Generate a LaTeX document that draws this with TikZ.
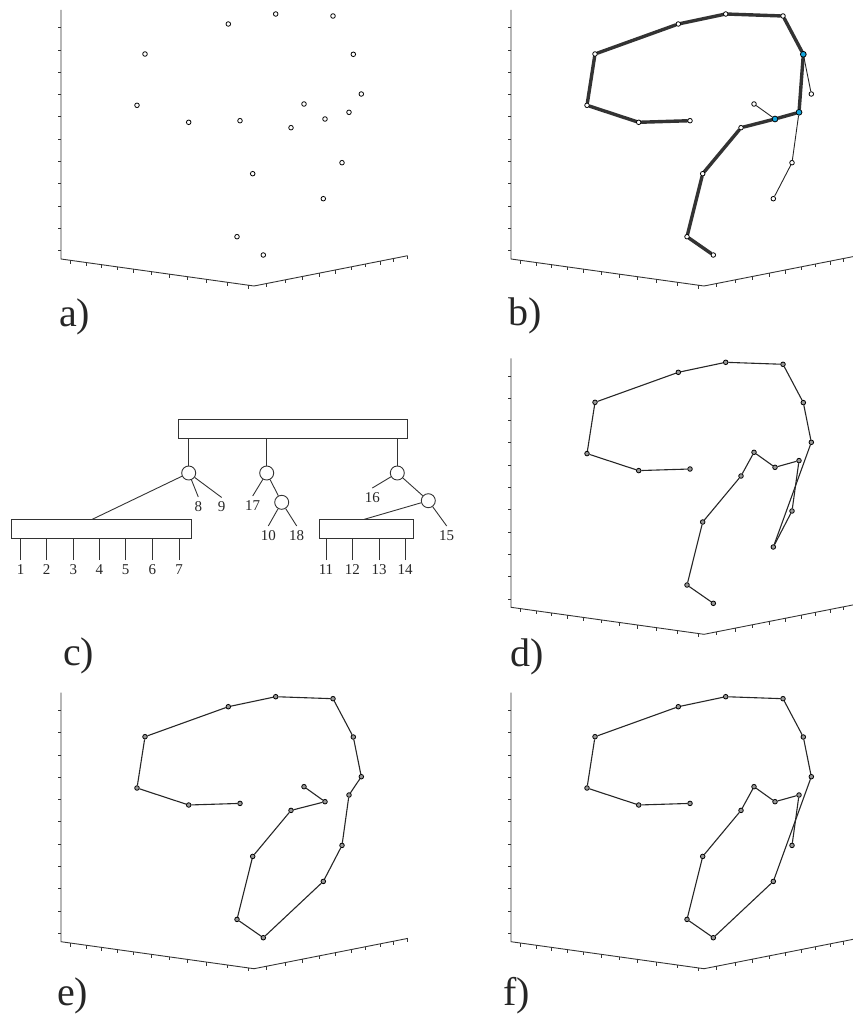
\documentclass[tikz,border=0pt]{standalone}
\usepackage{fontspec}
\setmainfont{Liberation Serif}
\definecolor{hubblue}{RGB}{20,165,220}
\pgfdeclarelayer{lines}
\pgfsetlayers{lines,main}

%% the 18 points, one list for every panel
\newcommand*{\ptlist}{1/275.7/14, 2/333/16, 3/228.3/24, 4/145/54,
  5/353.3/54.3, 6/361.3/94, 7/137/105.3, 8/304/104, 9/349/112.3,
  10/325/119, 11/188.7/122.3, 12/240/120.7, 13/291/127.7, 14/342/162.7,
  15/252.7/173.7, 16/323.3/198.7, 17/237/236.7, 18/263.3/255}

%% the three axes of one panel
\newcommand*{\plotaxes}{%
  \draw[axisline] (61,10) -- (61,259) -- (254,286) -- (407.7,255.7);
  \foreach \ty in {27.7,50,72.3,94.6,116.9,139.2,161.5,183.8,206.1,228.4,250.7}
    {\draw[axisline] (61,\ty) -- ++(-3.5,0);}
  \foreach \tx in {70.7,86,101,117.7,133.7,151,169,187.7,206.7,227.3,248.3}
    {\draw[axisline] (\tx,{259+0.1399*(\tx-61)}) -- ++(0,3.5);}
  \foreach \tx in {266,285,302.3,319,335,351,365.7,380,393.3,407.7}
    {\draw[axisline] (\tx,{286-0.1971*(\tx-254)}) -- ++(0,3.5);}
}

%% the points of one panel: #1 name prefix, #2 node style
\newcommand*{\plotpts}[2]{%
  \foreach \n/\px/\py in \ptlist
    {\node[#2] (#1\n) at (\px,\py) {};}
}

\begin{document}
\begin{tikzpicture}
  [x=1pt,y=-1pt,
   axisline/.style={line width=0.9pt,black!80},
   ptdot/.style={shape=circle,inner sep=0pt,minimum size=4.6pt,draw,line width=0.8pt,fill=white},
   graydot/.style={ptdot,fill=black!40},
   hubdot/.style={ptdot,minimum size=5.8pt,fill=hubblue},
   spine/.style={-,line width=3.4pt,black!80,line cap=round},
   twig/.style={-,line width=0.9pt,black!85},
   tourline/.style={-,line width=1.1pt,black!85},
   bar/.style={shape=rectangle,draw=black!80,line width=0.9pt,inner sep=0pt,minimum height=18.7pt},
   hub/.style={shape=circle,draw=black!80,line width=0.9pt,inner sep=0pt,minimum size=14pt},
   treeline/.style={-,line width=0.9pt,black!80},
   leaf/.style={anchor=north,inner sep=4pt,text=black!85,font=\fontsize{15}{18}\selectfont},
   panellabel/.style={anchor=base west,inner sep=0pt,text=black!85,font=\fontsize{40}{48}\selectfont}]
  \useasboundingbox (0,0) rectangle (852,1016);

  %% a) the bare points
  \begin{scope}
    \plotaxes
    \plotpts{a}{ptdot}
  \end{scope}
  \node[panellabel] (la) at (59,326.5) {a)};

  %% b) spine and branches
  \begin{scope}[shift={(450,0)},hub5/.style={hubdot},hub9/.style={hubdot},hub10/.style={hubdot}]
    \plotaxes
    \plotpts{b}{ptdot,hub\n/.try}
    \begin{pgfonlayer}{lines}
      \path
      \foreach \startnode/\endnode in {12/11, 11/7, 7/4, 4/3, 3/1, 1/2, 2/5,
        5/9, 9/10, 10/13, 13/15, 15/17, 17/18}
      {
        (b\startnode) edge[spine] (b\endnode)
      };
      \path
      \foreach \startnode/\endnode in {5/6, 10/8, 9/14, 14/16}
      {
        (b\startnode) edge[twig] (b\endnode)
      };
    \end{pgfonlayer}
  \end{scope}
  \node[panellabel] (lb) at (508,325) {b)};

  %% c) the tree
  \node[bar,minimum width=229pt] (top) at (292.8,428.65) {};
  \node[bar,minimum width=179.3pt] (boxl) at (101.35,528.65) {};
  \node[bar,minimum width=94pt] (boxr) at (366.3,528.65) {};
  \foreach \nodename/\x/\y in {hl/188.7/473, hm/266.7/473, hr/397.3/473,
    hm2/281.7/502.3, hr2/428.3/500.7}
  {
    \node[hub] (\nodename) at (\x,\y) {};
  }
  \foreach \nodename in {hl, hm, hr}
  {
    \draw[treeline] (\nodename.north) -- (\nodename.north |- top.south);
  }
  \foreach \nodename/\x/\y in {8/198.3/497, 9/221.7/497.5, 17/252.7/496,
    10/268.3/526, 18/296.7/526, 16/372.3/488, 15/446.7/526}
  {
    \node[leaf] (n\nodename) at (\x,\y) {\nodename};
  }
  \path
  \foreach \startnode/\endnode in {hl/n8, hl/n9, hm/n17, hm2/n10, hm2/n18,
    hr/n16, hr2/n15}
  {
    (\startnode) edge[treeline] (\endnode.north)
  };
  \path (hm) edge[treeline] (hm2) (hr) edge[treeline] (hr2);
  \coordinate (jl) at (92.3,519.3);
  \coordinate (jr) at (364.3,519.3);
  \draw[treeline] (hl) -- (jl);
  \draw[treeline] (hr2) -- (jr);
  \foreach \nodename/\x in {1/20.7, 2/46.7, 3/73.3, 4/99.3, 5/125.7, 6/152.3, 7/179}
  {
    \node[leaf] (l\nodename) at (\x,560) {\nodename};
    \draw[treeline] (l\nodename.north) -- (l\nodename.north |- boxl.south);
  }
  \foreach \nodename/\x in {11/326, 12/352.3, 13/379, 14/405}
  {
    \node[leaf] (l\nodename) at (\x,560) {\nodename};
    \draw[treeline] (l\nodename.north) -- (l\nodename.north |- boxr.south);
  }
  \node[panellabel] (lc) at (63,665) {c)};

  %% d) first tour
  \begin{scope}[shift={(450,348.3)}]
    \plotaxes
    \plotpts{d}{graydot}
    \begin{pgfonlayer}{lines}
      \path
      \foreach \startnode/\endnode in {12/11, 11/7, 7/4, 4/3, 3/1, 1/2, 2/5,
        5/6, 6/16, 16/14, 14/9, 9/10, 10/8, 8/13, 13/15, 15/17, 17/18}
      {
        (d\startnode) edge[tourline] (d\endnode)
      };
    \end{pgfonlayer}
  \end{scope}
  \node[panellabel] (ld) at (510,666) {d)};

  %% e) second tour
  \begin{scope}[shift={(0,682.7)}]
    \plotaxes
    \plotpts{e}{graydot}
    \begin{pgfonlayer}{lines}
      \path
      \foreach \startnode/\endnode in {12/11, 11/7, 7/4, 4/3, 3/1, 1/2, 2/5,
        5/6, 6/9, 9/14, 14/16, 16/18, 18/17, 17/15, 15/13, 13/10, 10/8}
      {
        (e\startnode) edge[tourline] (e\endnode)
      };
    \end{pgfonlayer}
  \end{scope}
  \node[panellabel] (le) at (57,1005) {e)};

  %% f) third tour
  \begin{scope}[shift={(450,682.7)}]
    \plotaxes
    \plotpts{f}{graydot}
    \begin{pgfonlayer}{lines}
      \path
      \foreach \startnode/\endnode in {12/11, 11/7, 7/4, 4/3, 3/1, 1/2, 2/5,
        5/6, 6/16, 16/18, 18/17, 17/15, 15/13, 13/8, 8/10, 10/9, 9/14}
      {
        (f\startnode) edge[tourline] (f\endnode)
      };
    \end{pgfonlayer}
  \end{scope}
  \node[panellabel] (lf) at (503,1005) {f)};
\end{tikzpicture}
\end{document}
